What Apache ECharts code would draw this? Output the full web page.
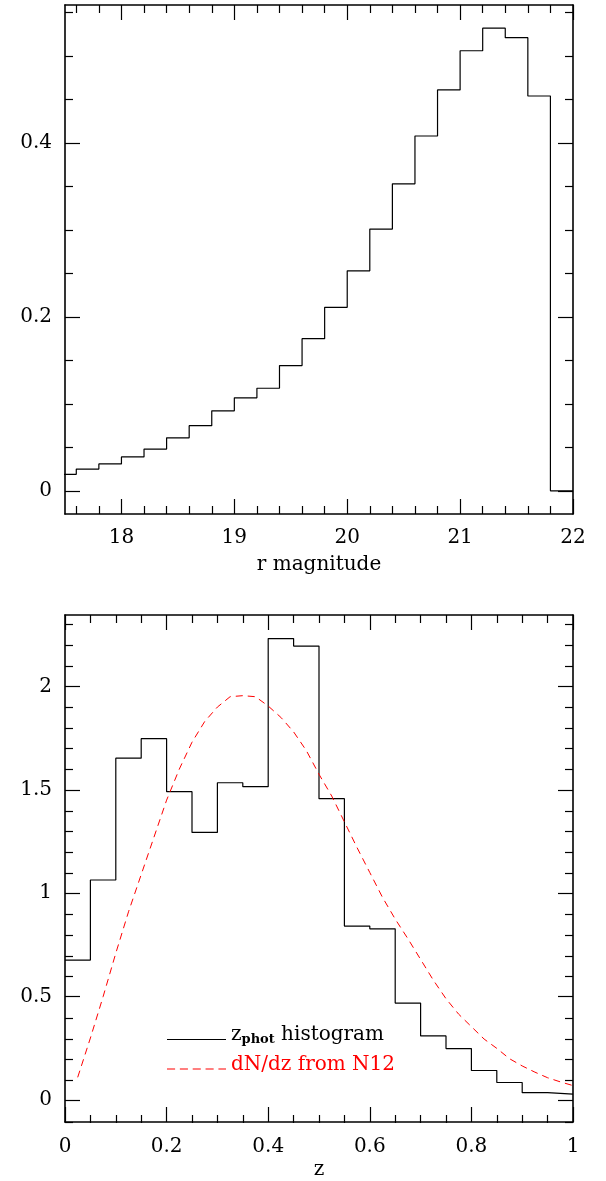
<!DOCTYPE html>
<html><head><meta charset="utf-8">
<script src="https://cdn.jsdelivr.net/npm/echarts@6/dist/echarts.min.js"></script>
<style>html,body{margin:0;padding:0;background:#fff}#c{width:606px;height:1181px}</style>
</head><body><div id="c"></div>
<script>
// ---- data: r magnitude histogram (left bin edges, bin width 0.2) ----
const magEdges  = [17.4,17.6,17.8,18.0,18.2,18.4,18.6,18.8,19.0,19.2,19.4,19.6,19.8,20.0,20.2,20.4,20.6,20.8,21.0,21.2,21.4,21.6,21.8];
const magValues = [0.019,0.025,0.031,0.039,0.048,0.061,0.075,0.092,0.107,0.118,0.144,0.175,0.211,0.253,0.301,0.353,0.408,0.461,0.506,0.532,0.521,0.454,0.0];
const magBinWidth = 0.2;
// ---- data: photometric redshift histogram (left bin edges, width 0.05) ----
const zEdges  = [0,0.05,0.10,0.15,0.20,0.25,0.30,0.35,0.40,0.45,0.50,0.55,0.60,0.65,0.70,0.75,0.80,0.85,0.90,0.95];
const zValues = [0.677,1.064,1.653,1.747,1.491,1.294,1.534,1.515,2.231,2.195,1.457,0.841,0.828,0.469,0.310,0.249,0.143,0.085,0.036,0.029];
const zBinWidth = 0.05;
// ---- data: dN/dz from N12 ----
const dndzZ = [0.025,0.05,0.075,0.1,0.125,0.15,0.175,0.2,0.225,0.25,0.275,0.3,0.325,0.35,0.375,0.4,0.425,0.45,0.475,0.5,0.525,0.55,0.575,0.6,0.625,0.65,0.675,0.7,0.725,0.75,0.775,0.8,0.825,0.85,0.875,0.9,0.925,0.95,0.975,1.0];
const dndzV = [0.11,0.30,0.50,0.71,0.91,1.09,1.27,1.45,1.60,1.73,1.83,1.90,1.95,1.955,1.95,1.905,1.85,1.78,1.69,1.575,1.47,1.345,1.22,1.10,0.98,0.875,0.78,0.68,0.58,0.49,0.415,0.355,0.295,0.25,0.20,0.165,0.135,0.108,0.088,0.07];
// ---- tick values ----
const magMajorTicks  = [18,19,20,21,22];
const magMinorTicks  = [17.6,17.8,18.2,18.4,18.6,18.8,19.2,19.4,19.6,19.8,20.2,20.4,20.6,20.8,21.2,21.4,21.6,21.8];
const fracMajorTicks = [0,0.2,0.4];
const fracMinorTicks = [0.05,0.1,0.15,0.25,0.3,0.35,0.45,0.5,0.55];
const zMajorTicks    = [0,0.2,0.4,0.6,0.8,1];
const zMinorTicks    = [0.05,0.1,0.15,0.25,0.3,0.35,0.45,0.5,0.55,0.65,0.7,0.75,0.85,0.9,0.95];
const nzMajorTicks   = [0,0.5,1,1.5,2];
const nzMinorTicks   = [-0.1,0.1,0.2,0.3,0.4,0.6,0.7,0.8,0.9,1.1,1.2,1.3,1.4,1.6,1.7,1.8,1.9,2.1,2.2,2.3];
const labels = {magName:'r magnitude', zName:'z', hist:'histogram', histSub:'phot', histVar:'z', dndz:'dN/dz from N12'};

const FONT = 'DejaVu Serif';
const magRange = [17.5, 22], fracRange = [-0.0266, 0.5586];
const zRange = [0, 1], nzRange = [-0.106, 2.345];

function stepData(edges, vals, w){
  const d = edges.map((e,i)=>[e, vals[i]]);
  d.push([edges[edges.length-1]+w, vals[vals.length-1]]);
  return d;
}

function ax(kind, grid, pos, range, ticks, len, opts){
  opts = opts || {};
  const a = {
    type:'value', gridIndex:grid, position:pos, min:range[0], max:range[1],
    axisLine:{show:!!opts.line, onZero:false, lineStyle:{color:'#000', width:1.6}},
    axisTick:{show:true, inside:true, length:len, customValues:ticks, lineStyle:{color:'#000', width:1.2}},
    axisLabel:{show:!!opts.labels, customValues:opts.labels?ticks:undefined, color:'#000', fontFamily:FONT, fontSize:20, margin:opts.margin||12},
    splitLine:{show:false}, minorTick:{show:false}, axisPointer:{show:false}
  };
  if(opts.name){
    a.name = opts.name; a.nameLocation='middle'; a.nameGap=opts.nameGap;
    a.nameTextStyle={color:'#000', fontFamily:FONT, fontSize:20};
  }
  return a;
}

const MAJ = 15, MIN = 8;
const gTop = {left:65, right:33, top:5, height:509};
const gBot = {left:65, right:33, top:615, height:508};

const solidIcon  = 'path://M0,0h60v1h-60z';
const dashedIcon = 'path://M0,0h8v1h-8z M12.7,0h8v1h-8z M25.4,0h8v1h-8z M38.1,0h8v1h-8z M50.8,0h7.5v1h-7.5z';

const option = {
  animation:false,
  backgroundColor:'#fff',
  grid:[Object.assign({},gTop), Object.assign({},gTop), Object.assign({},gBot), Object.assign({},gBot)],
  xAxis:[
    ax('x',0,'bottom',magRange,magMajorTicks,MAJ,{line:true,labels:true,margin:14,name:labels.magName,nameGap:41}),
    ax('x',0,'top',magRange,magMajorTicks,MAJ,{line:true}),
    ax('x',1,'bottom',magRange,magMinorTicks,MIN),
    ax('x',1,'top',magRange,magMinorTicks,MIN),
    ax('x',2,'bottom',zRange,zMajorTicks,MAJ,{line:true,labels:true,margin:15,name:labels.zName,nameGap:38}),
    ax('x',2,'top',zRange,zMajorTicks,MAJ,{line:true}),
    ax('x',3,'bottom',zRange,zMinorTicks,MIN),
    ax('x',3,'top',zRange,zMinorTicks,MIN)
  ],
  yAxis:[
    ax('y',0,'left',fracRange,fracMajorTicks,MAJ,{line:true,labels:true,margin:13}),
    ax('y',0,'right',fracRange,fracMajorTicks,MAJ,{line:true}),
    ax('y',1,'left',fracRange,fracMinorTicks,MIN),
    ax('y',1,'right',fracRange,fracMinorTicks,MIN),
    ax('y',2,'left',nzRange,nzMajorTicks,MAJ,{line:true,labels:true,margin:13}),
    ax('y',2,'right',nzRange,nzMajorTicks,MAJ,{line:true}),
    ax('y',3,'left',nzRange,nzMinorTicks,MIN),
    ax('y',3,'right',nzRange,nzMinorTicks,MIN)
  ],
  legend:{
    show:true, orient:'vertical', left:167, top:1025, padding:0, itemWidth:59, itemHeight:1.2, itemGap:8,
    selectedMode:false,
    data:[{name:'hist', icon:solidIcon, textStyle:{color:'#000'}},{name:'dndz', icon:dashedIcon, textStyle:{color:'#ff0000'}}],
    formatter:function(n){ return n==='hist' ? labels.histVar+'{s|'+labels.histSub+'} '+labels.hist : labels.dndz; },
    textStyle:{fontFamily:FONT, fontSize:20, padding:[0,0,9,0], rich:{s:{fontFamily:FONT, fontSize:13, fontWeight:'bold', verticalAlign:'bottom', padding:[10,0,0,0]}}}
  },
  series:[
    {name:'hist', type:'line', xAxisIndex:0, yAxisIndex:0, step:'end', symbol:'none', clip:true,
     lineStyle:{color:'#000', width:1.2}, itemStyle:{color:'#000'}, data:stepData(magEdges,magValues,magBinWidth)},
    {name:'hist', type:'line', xAxisIndex:4, yAxisIndex:4, step:'end', symbol:'none', clip:true,
     lineStyle:{color:'#000', width:1.2}, itemStyle:{color:'#000'}, data:stepData(zEdges,zValues,zBinWidth)},
    {name:'dndz', type:'line', xAxisIndex:4, yAxisIndex:4, symbol:'none', clip:true,
     lineStyle:{color:'#ff0000', width:1, type:[7,5]}, itemStyle:{color:'#ff0000'},
     data:dndzZ.map((z,i)=>[z,dndzV[i]])}
  ]
};
const chart = echarts.init(document.getElementById('c'), null, {renderer:'canvas'});
chart.setOption(option);
</script>
</body></html>
